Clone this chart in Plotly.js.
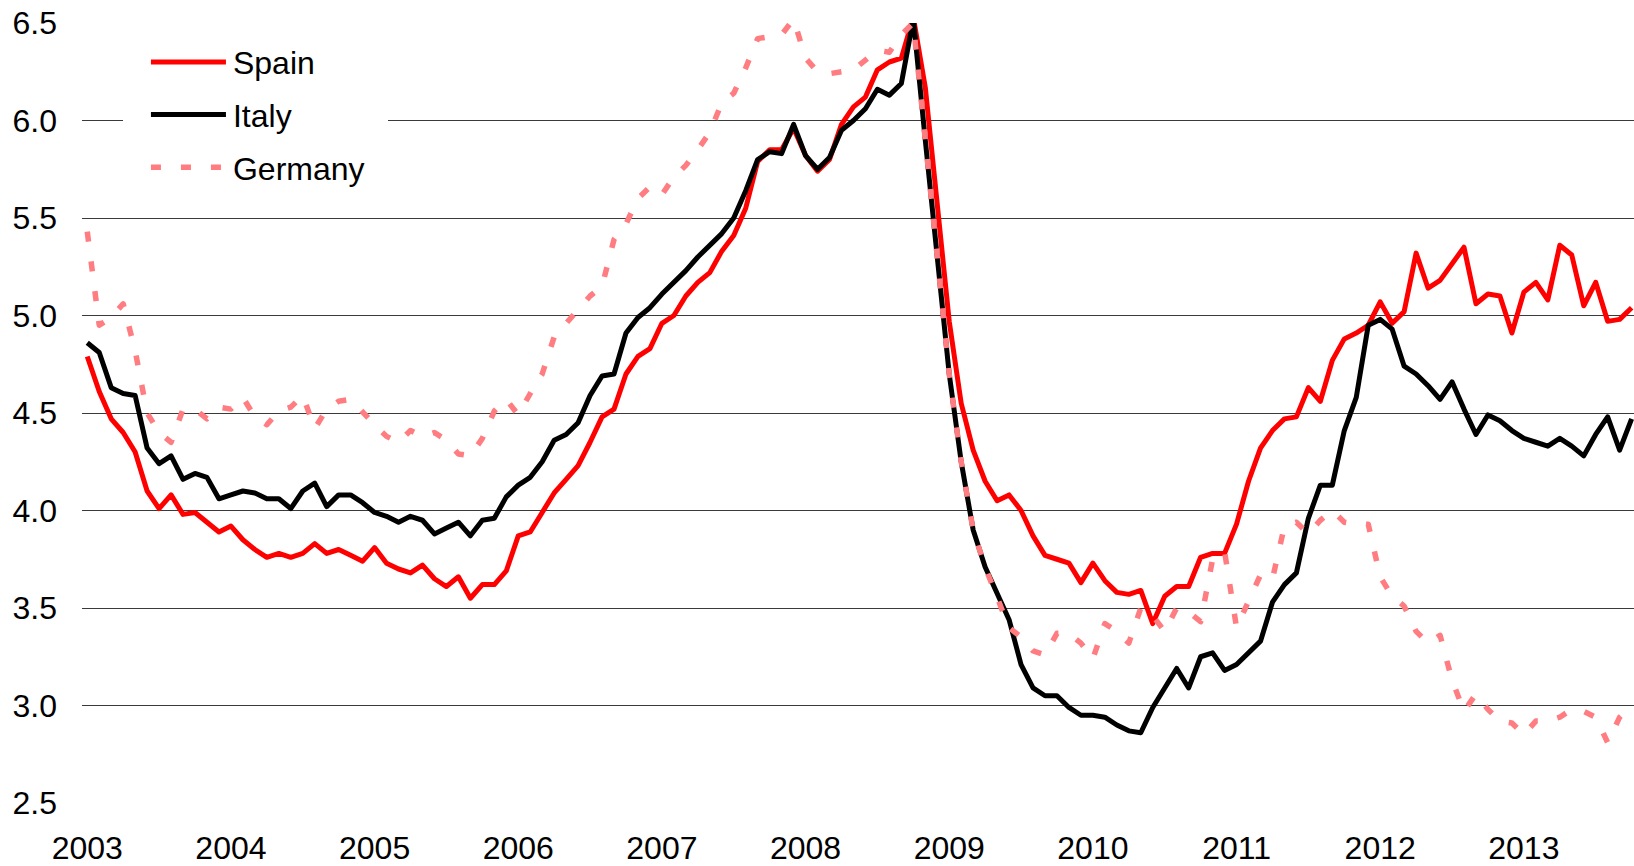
<!DOCTYPE html>
<html>
<head>
<meta charset="utf-8">
<script src="https://cdn.plot.ly/plotly-3.0.1.min.js"></script>
<style>
html,body{margin:0;padding:0;background:#ffffff;}
#chart{width:1634px;height:866px;}
.scatterlayer path.js-line{stroke-linejoin:round;}
</style>
</head>
<body>
<div id="chart"></div>
<script>
// Monthly series, Jan 2003 onwards (one value per month)
const yearLabels = ['2003','2004','2005','2006','2007','2008','2009','2010','2011','2012','2013'];

const spain = [
  4.79,4.61,4.47,4.40,4.30,4.10,4.01,4.08,3.98,3.99,3.94,3.89,
  3.92,3.85,3.80,3.76,3.78,3.76,3.78,3.83,3.78,3.80,3.77,3.74,
  3.81,3.73,3.70,3.68,3.72,3.65,3.61,3.66,3.55,3.62,3.62,3.69,
  3.87,3.89,3.99,4.09,4.16,4.23,4.35,4.48,4.52,4.70,4.79,4.83,
  4.96,5.00,5.10,5.17,5.22,5.33,5.41,5.55,5.79,5.85,5.85,5.96,
  5.82,5.74,5.80,5.98,6.07,6.12,6.26,6.30,6.32,6.53,6.17,5.55,
  4.97,4.55,4.31,4.15,4.05,4.08,4.00,3.87,3.77,3.75,3.73,3.63,
  3.73,3.64,3.58,3.57,3.59,3.42,3.56,3.61,3.61,3.76,3.78,3.78,
  3.93,4.15,4.32,4.41,4.47,4.48,4.63,4.56,4.77,4.88,4.91,4.95,
  5.07,4.96,5.02,5.32,5.14,5.18,5.26,5.35,5.06,5.11,5.10,4.91,
  5.12,5.17,5.08,5.36,5.31,5.05,5.17,4.97,4.98,5.04
];

const italy = [
  4.86,4.81,4.63,4.60,4.59,4.32,4.24,4.28,4.16,4.19,4.17,4.06,
  4.08,4.10,4.09,4.06,4.06,4.01,4.10,4.14,4.02,4.08,4.08,4.04,
  3.99,3.97,3.94,3.97,3.95,3.88,3.91,3.94,3.87,3.95,3.96,4.07,
  4.13,4.17,4.25,4.36,4.39,4.45,4.59,4.69,4.70,4.91,4.99,5.04,
  5.11,5.17,5.23,5.30,5.36,5.42,5.50,5.64,5.80,5.84,5.83,5.98,
  5.82,5.75,5.81,5.95,6.00,6.06,6.16,6.13,6.19,6.52,5.90,5.30,
  4.70,4.25,3.90,3.71,3.57,3.44,3.21,3.09,3.05,3.05,2.99,2.95,
  2.95,2.94,2.90,2.87,2.86,2.99,3.09,3.19,3.09,3.25,3.27,3.18,
  3.21,3.27,3.33,3.53,3.62,3.68,3.96,4.13,4.13,4.41,4.58,4.95,
  4.98,4.93,4.74,4.70,4.64,4.57,4.66,4.52,4.39,4.49,4.46,4.41,
  4.37,4.35,4.33,4.37,4.33,4.28,4.39,4.48,4.31,4.47
];

const germany = [
  5.43,4.95,4.99,5.06,4.82,4.50,4.40,4.35,4.52,4.52,4.47,4.53,
  4.52,4.58,4.48,4.44,4.51,4.53,4.59,4.42,4.52,4.56,4.57,4.50,
  4.44,4.38,4.35,4.41,4.38,4.40,4.36,4.29,4.28,4.37,4.51,4.57,
  4.49,4.60,4.70,4.89,4.96,5.04,5.10,5.15,5.39,5.47,5.60,5.66,
  5.62,5.71,5.77,5.85,5.94,6.09,6.14,6.27,6.42,6.43,6.44,6.52,
  6.32,6.25,6.24,6.25,6.26,6.31,6.36,6.35,6.44,6.50,5.90,5.30,
  4.70,4.25,3.90,3.71,3.55,3.40,3.35,3.28,3.26,3.37,3.37,3.32,
  3.24,3.42,3.38,3.32,3.50,3.46,3.38,3.50,3.48,3.43,3.75,3.79,
  3.40,3.54,3.67,3.65,3.92,3.94,3.88,3.95,4.00,3.94,3.93,3.93,
  3.66,3.56,3.51,3.38,3.32,3.36,3.13,2.97,3.06,2.98,2.92,2.91,
  2.85,2.92,2.92,2.94,2.98,2.97,2.94,2.81,2.94,3.00
];

const monthIdx = spain.map((_, i) => i);
const yearTickVals = yearLabels.map((_, i) => i * 12);

const FONT = 'Liberation Sans, Arial, Helvetica, sans-serif';
const FS = 32;

const traces = [
  {name: 'Spain', x: monthIdx, y: spain, type: 'scatter', mode: 'lines',
   legendgroup: 'a', line: {color: '#ff0000', width: 5}},
  {name: 'Italy', x: monthIdx, y: italy, type: 'scatter', mode: 'lines',
   legendgroup: 'b', line: {color: '#000000', width: 5}},
  {name: 'Germany', x: monthIdx, y: germany, type: 'scatter', mode: 'lines',
   legendgroup: 'c', line: {color: '#ff7c80', width: 5.5, dash: '10px,20px'}}
];

const layout = {
  width: 1634, height: 866,
  margin: {l: 82, r: 0, t: 23, b: 63, pad: 0},
  paper_bgcolor: '#ffffff', plot_bgcolor: '#ffffff',
  font: {family: FONT, size: FS, color: '#000000'},
  showlegend: true,
  legend: {
    x: 0.0412, xanchor: 'left', y: 0.985, yanchor: 'top',
    bgcolor: '#ffffff', borderwidth: 0,
    font: {family: FONT, size: FS, color: '#000000'},
    itemwidth: 77, tracegroupgap: 8, traceorder: 'grouped'
  },
  xaxis: {
    range: [-0.44, 129.2], tickmode: 'array', tickvals: yearTickVals, ticktext: yearLabels,
    showgrid: false, zeroline: false, showline: false, ticks: '',
    tickfont: {family: FONT, size: FS, color: '#000000'}, ticklabelstandoff: 23
  },
  yaxis: {
    range: [2.5, 6.5], tickmode: 'linear', tick0: 2.5, dtick: 0.5, tickformat: '.1f',
    showgrid: true, gridcolor: '#3a3a3a', gridwidth: 1,
    zeroline: false, showline: false, ticks: '',
    tickfont: {family: FONT, size: FS, color: '#000000'}, ticklabelstandoff: 24
  }
};

Plotly.newPlot('chart', traces, layout, {displayModeBar: false, staticPlot: true}).then(function (gd) {
  gd.querySelectorAll('.legend path.js-line').forEach(function (p) {
    p.setAttribute('d', 'M5,0h75');
  });
  var bg = gd.querySelector('.legend rect.bg');
  if (bg) {
    bg.setAttribute('x', '-23');
    bg.setAttribute('width', '265');
  }
});
</script>
</body>
</html>
